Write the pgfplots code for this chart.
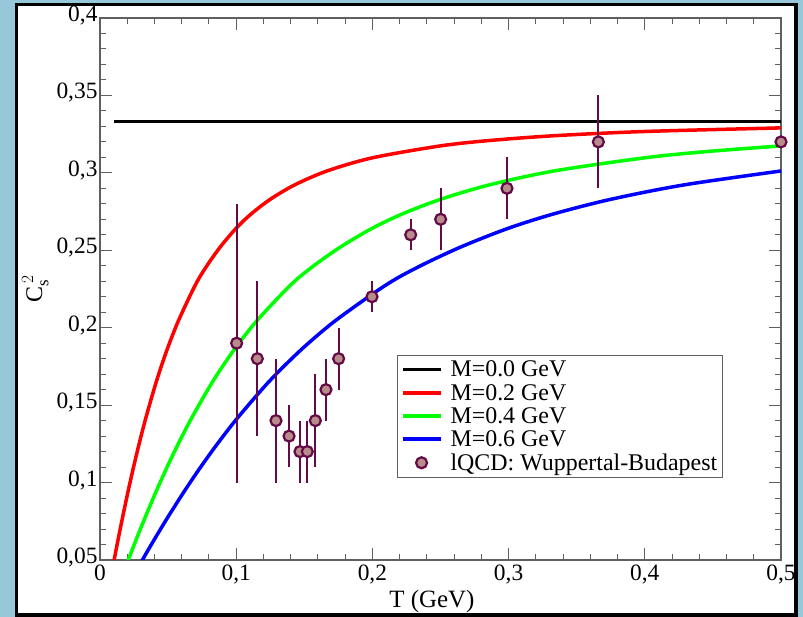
\documentclass[border=0pt]{standalone}
\usepackage{fontspec}
\setmainfont{Liberation Serif}
\usepackage{pgfplots}
\pgfplotsset{compat=1.18}
\definecolor{bgblue}{RGB}{150,200,218}
\definecolor{qcdedge}{RGB}{100,10,70}
\definecolor{qcdfill}{RGB}{185,140,140}
\definecolor{axgray}{RGB}{95,95,95}
\pgfplotstableread{
T c e
0.1003 0.19 0.09
0.1155 0.18 0.05
0.1292 0.14 0.04
0.1388 0.13 0.02
0.1468 0.12 0.02
0.1522 0.12 0.02
0.1581 0.14 0.03
0.1659 0.16 0.02
0.1752 0.18 0.02
0.1997 0.22 0.01
0.2281 0.26 0.01
0.2501 0.27 0.02
0.2988 0.29 0.02
0.3659 0.32 0.03
0.5 0.32 0.0
}\qcddata
\begin{document}
\begin{tikzpicture}[x=1bp,y=1bp]
\useasboundingbox (0,0) rectangle (803,617);
\fill[bgblue] (0,0) rectangle (803,617);
\draw[line width=3.5bp, fill=white] (16.5,2) rectangle (796,612.5);
\begin{axis}[
  at={(100bp,57bp)}, anchor=south west,
  scale only axis, width=681bp, height=542bp,
  xmin=0, xmax=0.5, ymin=0.05, ymax=0.4,
  xtick={0,0.1,0.2,0.3,0.4,0.5},
  xticklabels={0,{0,1},{0,2},{0,3},{0,4},{0,5}},
  ytick={0.05,0.1,0.15,0.2,0.25,0.3,0.35,0.4},
  yticklabels={{0,05},{0,1},{0,15},{0,2},{0,25},{0,3},{0,35},{0,4}},
  scaled ticks=false,
  minor x tick num=4, minor y tick num=4,
  tick align=inside,
  major tick length=12bp, minor tick length=6bp,
  axis line style={draw=axgray, line width=1.2bp},
  every tick/.style={axgray, line width=1bp},
  ticklabel style={font=\fontsize{23.5}{27}\selectfont},
  xticklabel style={yshift=-1.5bp},
  yticklabel style={xshift=1bp, yshift=2.5bp},
  xlabel={T (GeV)},
  xlabel style={font=\fontsize{25}{28}\selectfont, at={(axis description cs:0.4875,-0.076)}, anchor=center},
  ylabel={C$_{\mathrm{s}}^{\,2}$},
  ylabel style={font=\fontsize{24}{28}\selectfont, at={(axis description cs:-0.095,0.5)}, anchor=center, rotate=0},
  legend style={at={(0.436,0.378)}, anchor=north west, draw=axgray, line width=0.8bp,
    font=\fontsize{24}{27}\selectfont, row sep=1.8bp, inner sep=3.5bp, cells={anchor=west}},
  legend image code/.code={\path[draw=none] (0bp,0bp) -- (46bp,0bp);\draw[mark repeat=2,mark phase=2,#1] plot coordinates {(0bp,0bp) (19bp,0bp) (38bp,0bp)};},
]
\addplot[black, line width=3.5bp] coordinates {(0.0103,0.3333) (0.5,0.3333)};
\addlegendentry{M=0.0 GeV}
\addplot[red, line width=3.5bp, smooth] coordinates {
(0.0100,0.04829) (0.01111,0.05339) (0.0125,0.05968) (0.014286,0.06762) (0.01667,0.07792)
(0.02,0.09181) (0.02222,0.10070) (0.025,0.11140) (0.02857,0.12446) (0.03333,0.14071)
(0.04,0.16125) (0.04444,0.17361) (0.05,0.18765) (0.05714,0.20361) (0.06667,0.22171)
(0.07273,0.2320) (0.08,0.24201) (0.08889,0.2528) (0.1,0.26428) (0.1111,0.27355) (0.125,0.28291) (0.14286,0.29219)
(0.16667,0.30121) (0.2,0.30971) (0.25,0.31741) (0.28571,0.32086) (0.33333,0.32397)
(0.4,0.32671) (0.5,0.32902)};
\addlegendentry{M=0.2 GeV}
\addplot[green, line width=3.5bp, smooth] coordinates {
(0.02,0.04829) (0.02222,0.05339) (0.025,0.05968) (0.02857,0.06762) (0.03333,0.07792)
(0.04,0.09181) (0.04444,0.10070) (0.05,0.11140) (0.05714,0.12446) (0.06667,0.14071)
(0.08,0.16125) (0.08889,0.17361) (0.1,0.18765) (0.11429,0.20361) (0.13333,0.22171)
(0.14545,0.2320) (0.16,0.24201) (0.17778,0.2528) (0.2,0.26428) (0.22222,0.27355) (0.25,0.28291) (0.28571,0.29219)
(0.33333,0.30121) (0.4,0.30971) (0.44444,0.31368) (0.5,0.31741)};
\addlegendentry{M=0.4 GeV}
\addplot[blue, line width=3.5bp, smooth] coordinates {
(0.03,0.04829) (0.03333,0.05339) (0.0375,0.05968) (0.04286,0.06762) (0.05,0.07792)
(0.06,0.09181) (0.06667,0.10070) (0.075,0.11140) (0.08571,0.12446) (0.1,0.14071)
(0.12,0.16125) (0.13333,0.17361) (0.15,0.18765) (0.17143,0.20361) (0.2,0.22171)
(0.21818,0.2320) (0.24,0.24201) (0.26667,0.2528) (0.3,0.26428) (0.33333,0.27355) (0.375,0.28291) (0.42857,0.29219)
(0.5,0.30121)};
\addlegendentry{M=0.6 GeV}
\addplot[only marks, mark=*, mark size=5.5bp,
  mark options={draw=qcdedge, fill=qcdfill, line width=2.2bp},
  error bars/.cd, y dir=both, y explicit, error mark=none,
  error bar style={qcdedge, line width=2.2bp}]
  table[x=T, y=c, y error=e] {\qcddata};
\addlegendentry{lQCD: Wuppertal-Budapest}
\end{axis}
\end{tikzpicture}
\end{document}
